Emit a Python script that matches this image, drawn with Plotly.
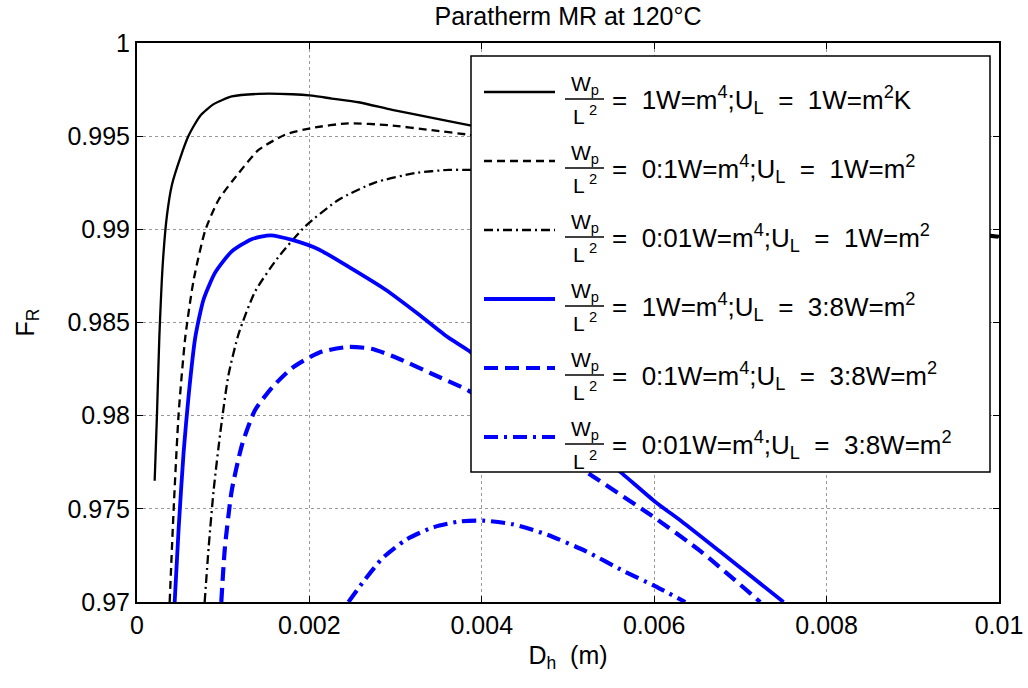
import plotly.graph_objects as go

# Hydraulic diameter D_h (m) and heat-removal factor F_R for each case
dh_a = [0.000205, 0.000232, 0.000259, 0.000301, 0.000348, 0.000406, 0.000502, 0.000599,
        0.000734, 0.000889, 0.00110, 0.00141, 0.00180, 0.00203, 0.00226, 0.00257,
        0.00296, 0.00334, 0.00385, 0.0045, 0.0050, 0.0060, 0.0070, 0.0080, 0.0090, 0.0100]
fr_a = [0.97651, 0.98010, 0.98420, 0.98830, 0.99077, 0.99241, 0.99384, 0.99503,
        0.99610, 0.99672, 0.99713, 0.99727, 0.99725, 0.99717, 0.99702, 0.99682,
        0.99641, 0.99606, 0.99559, 0.99500, 0.99450, 0.99340, 0.99230, 0.99125, 0.99025, 0.98965]

dh_b = [0.000379, 0.000425, 0.000483, 0.000560, 0.000657, 0.000792, 0.000947, 0.00118,
        0.00141, 0.00172, 0.00203, 0.00245, 0.00292, 0.00342, 0.00385, 0.0045, 0.0050,
        0.0060, 0.0070, 0.0080, 0.0090, 0.0100]
fr_b = [0.97000, 0.97497, 0.98010, 0.98420, 0.98728, 0.98995, 0.99159, 0.99302,
        0.99426, 0.99508, 0.99544, 0.99569, 0.99559, 0.99532, 0.99508, 0.99470, 0.99425,
        0.99320, 0.99215, 0.99115, 0.99020, 0.98960]

dh_c = [0.000785, 0.000831, 0.000889, 0.000966, 0.00106, 0.00118, 0.00137, 0.00164,
        0.00195, 0.00234, 0.00276, 0.00323, 0.00361, 0.00385, 0.0045, 0.0050, 0.0060,
        0.0070, 0.0080, 0.0090, 0.0100]
fr_c = [0.97000, 0.97292, 0.97600, 0.97907, 0.98215, 0.98441, 0.98666, 0.98851,
        0.99015, 0.99159, 0.99251, 0.99302, 0.99319, 0.99319, 0.99310, 0.99290, 0.99240,
        0.99170, 0.99090, 0.99010, 0.98955]

dh_d = [0.000437, 0.000483, 0.000541, 0.000600, 0.000676, 0.000773, 0.000908, 0.00110,
        0.00133, 0.00155, 0.00180, 0.00211, 0.00249, 0.00288, 0.00327, 0.00361, 0.00385,
        0.0045, 0.0050, 0.00563, 0.00601, 0.00632, 0.00676, 0.00750]
fr_d = [0.97000, 0.97394, 0.97805, 0.98113, 0.98420, 0.98625, 0.98769, 0.98882,
        0.98947, 0.98968, 0.98943, 0.98892, 0.98789, 0.98677, 0.98543, 0.98420, 0.98348,
        0.98110, 0.97930, 0.97689, 0.97538, 0.97432, 0.97272, 0.97000]

dh_e = [0.000978, 0.00102, 0.00110, 0.00122, 0.00137, 0.00157, 0.00180, 0.00211,
        0.00245, 0.00272, 0.00303, 0.00342, 0.00385, 0.0045, 0.0050, 0.0053, 0.00596,
        0.00654, 0.00723]
fr_e = [0.97000, 0.97292, 0.97600, 0.97846, 0.98030, 0.98153, 0.98256, 0.98338,
        0.98369, 0.98359, 0.98307, 0.98225, 0.98133, 0.97925, 0.97765, 0.97671, 0.97467,
        0.97272, 0.97000]

dh_f = [0.002453, 0.00263, 0.00285, 0.00312, 0.00343, 0.00374, 0.00401, 0.00436,
        0.00476, 0.00521, 0.00565, 0.00601, 0.00636]
fr_f = [0.97000, 0.97112, 0.97236, 0.97334, 0.97400, 0.97432, 0.97437, 0.97417,
        0.97361, 0.97272, 0.97165, 0.97085, 0.97000]

# Legend labels: pumping power per area and loss coefficient
wp_labels = ["1", "0:1", "0:01", "1", "0:1", "0:01"]
ul_labels = ["1W=m<sup>2</sup>K", "1W=m<sup>2</sup>", "1W=m<sup>2</sup>",
             "3:8W=m<sup>2</sup>", "3:8W=m<sup>2</sup>", "3:8W=m<sup>2</sup>"]

# Axis ticks
x_ticks = [0, 0.002, 0.004, 0.006, 0.008, 0.01]
x_tick_text = ["0", "0.002", "0.004", "0.006", "0.008", "0.01"]
y_ticks = [0.97, 0.975, 0.98, 0.985, 0.99, 0.995, 1.0]
y_tick_text = ["0.97", "0.975", "0.98", "0.985", "0.99", "0.995", "1"]

series = [(dh_a, fr_a), (dh_b, fr_b), (dh_c, fr_c), (dh_d, fr_d), (dh_e, fr_e), (dh_f, fr_f)]
colors = ["black", "black", "black", "#0000ff", "#0000ff", "#0000ff"]
widths = [2.3, 2.3, 2.3, 3.8, 4.2, 4.2]
dashes = ["solid", "8px,5px", "9px,4px,2px,4px", "solid", "14px,7px", "14px,6px,3px,6px"]

FONT = "Liberation Sans, Arial, Helvetica, sans-serif"
W, H = 1028, 688
L, R, T, B = 137, 999, 43, 602  # plot-area edges in pixels


def px(xp):
    return (xp - L) / (R - L)


def py(yp):
    return (B - yp) / (B - T)


fig = go.Figure()
for (xs, ys), c, w, d in zip(series, colors, widths, dashes):
    fig.add_trace(go.Scatter(x=xs, y=ys, mode="lines", showlegend=False,
                             line=dict(color=c, width=w, dash=d, shape="spline", smoothing=0.6)))

shapes = []
annotations = []

# Hand-built legend box with stacked fractions
shapes.append(dict(type="rect", xref="paper", yref="paper", layer="above",
                   x0=px(471), x1=px(990), y0=py(472), y1=py(56),
                   line=dict(color="black", width=1.5), fillcolor="white"))
nb = "\u00a0"
for i in range(6):
    ye = 92 + 69 * i
    shapes.append(dict(type="line", xref="paper", yref="paper", layer="above",
                       x0=px(484), x1=px(555), y0=py(ye), y1=py(ye),
                       line=dict(color=colors[i], width=widths[i], dash=dashes[i])))
    shapes.append(dict(type="line", xref="paper", yref="paper", layer="above",
                       x0=px(565), x1=px(604), y0=py(ye + 7), y1=py(ye + 7),
                       line=dict(color="black", width=1.3)))
    annotations.append(dict(xref="paper", yref="paper", x=px(585), y=py(ye - 7),
                            text="W<sub>p</sub>", showarrow=False, xanchor="center",
                            yanchor="middle", font=dict(family=FONT, size=21, color="black")))
    annotations.append(dict(xref="paper", yref="paper", x=px(585), y=py(ye + 23),
                            text="L\u2009<sup>2</sup>", showarrow=False, xanchor="center",
                            yanchor="middle", font=dict(family=FONT, size=21, color="black")))
    txt = ("=" + nb * 2 + wp_labels[i] + "W=m<sup>4</sup>;U<sub>L</sub>" + nb * 2 + "=" + nb * 2
           + ul_labels[i])
    annotations.append(dict(xref="paper", yref="paper", x=px(610), y=py(ye + 8),
                            text=txt, showarrow=False, xanchor="left",
                            yanchor="middle", font=dict(family=FONT, size=26, color="black")))

fig.update_layout(
    width=W, height=H,
    margin=dict(l=L, r=W - R, t=T, b=H - B, pad=0),
    paper_bgcolor="white", plot_bgcolor="white",
    font=dict(family=FONT, size=25, color="black"),
    title=dict(text="Paratherm MR at 120\u00b0C", x=0.5, xref="paper", xanchor="center",
               y=1 - 16 / H, yref="container", yanchor="middle",
               font=dict(family=FONT, size=25, color="black")),
    shapes=shapes, annotations=annotations,
    showlegend=False,
)
fig.update_xaxes(range=[0, 0.01], tickvals=x_ticks, ticktext=x_tick_text,
                 showline=True, linecolor="black", linewidth=2, mirror="allticks",
                 ticks="inside", ticklen=6, tickwidth=1.2, tickcolor="black",
                 showgrid=True, gridcolor="#999999", griddash="dot", gridwidth=1,
                 zeroline=False, automargin=False,
                 tickfont=dict(family=FONT, size=25, color="black"),
                 title=dict(text="D<sub>h</sub>\u00a0\u00a0(m)", standoff=8,
                            font=dict(family=FONT, size=25, color="black")))
fig.update_yaxes(range=[0.97, 1.0], tickvals=y_ticks, ticktext=y_tick_text,
                 showline=True, linecolor="black", linewidth=2, mirror="allticks",
                 ticks="inside", ticklen=6, tickwidth=1.2, tickcolor="black",
                 showgrid=True, gridcolor="#999999", griddash="dot", gridwidth=1,
                 zeroline=False, automargin=False,
                 tickfont=dict(family=FONT, size=25, color="black"),
                 title=dict(text="F<sub>R</sub>", standoff=26,
                            font=dict(family=FONT, size=25, color="black")))

fig.write_html("out.html")
